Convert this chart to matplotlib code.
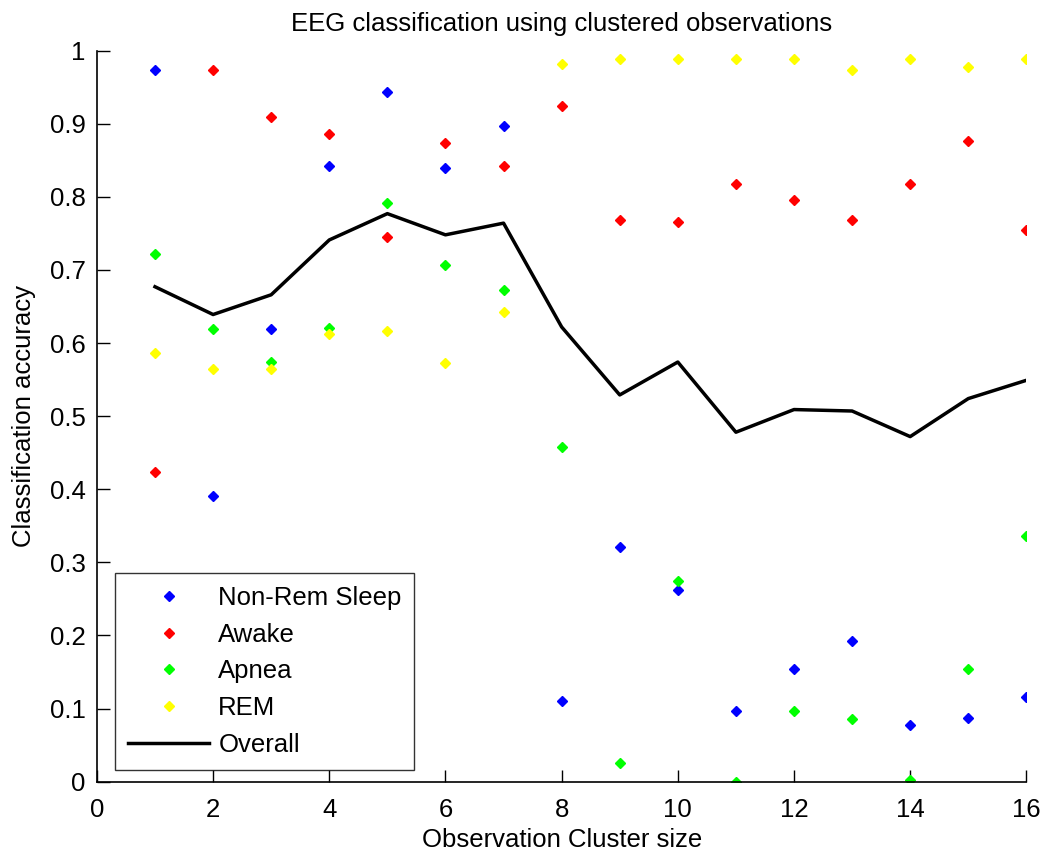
import matplotlib
matplotlib.use('Agg')
import matplotlib.pyplot as plt

plt.rcParams['font.family'] = ['Liberation Sans', 'DejaVu Sans']

# cluster sizes
cluster_size = list(range(1, 17))

# per-class accuracy
non_rem = [0.973, 0.391, 0.619, 0.842, 0.944, 0.839, 0.897, 0.110,
           0.321, 0.262, 0.096, 0.154, 0.192, 0.078, 0.087, 0.116]
awake = [0.423, 0.973, 0.909, 0.886, 0.745, 0.874, 0.842, 0.924,
         0.768, 0.766, 0.818, 0.795, 0.768, 0.818, 0.877, 0.754]
apnea = [0.722, 0.619, 0.574, 0.621, 0.792, 0.707, 0.672, 0.458,
         0.025, 0.274, 0.0, 0.096, 0.086, 0.002, 0.154, 0.336]
rem = [0.587, 0.564, 0.564, 0.613, 0.617, 0.573, 0.643, 0.982,
       0.988, 0.988, 0.988, 0.988, 0.973, 0.988, 0.977, 0.988]
overall = [0.677, 0.639, 0.666, 0.741, 0.777, 0.748, 0.764, 0.622,
           0.529, 0.574, 0.478, 0.509, 0.507, 0.472, 0.524, 0.549]

fs = 18.5

fig = plt.figure(figsize=(10.42, 8.58), dpi=100)
ax = fig.add_axes([0.093, 0.089, 0.892, 0.852])

ax.plot(cluster_size, non_rem, linestyle='none', marker='D', markersize=5,
        color='#0000ff', label='Non-Rem Sleep')
ax.plot(cluster_size, awake, linestyle='none', marker='D', markersize=5,
        color='#ff0000', label='Awake')
ax.plot(cluster_size, apnea, linestyle='none', marker='D', markersize=5,
        color='#00ff00', label='Apnea')
ax.plot(cluster_size, rem, linestyle='none', marker='D', markersize=5,
        color='#ffff00', label='REM')
ax.plot(cluster_size, overall, color='black', linewidth=2.5, label='Overall')

ax.set_xlim(0, 16)
ax.set_ylim(0, 1)
ax.set_xticks(range(0, 17, 2))
ax.set_yticks([i / 10 for i in range(11)])
ax.set_yticklabels(['0', '0.1', '0.2', '0.3', '0.4', '0.5', '0.6', '0.7',
                    '0.8', '0.9', '1'])
ax.tick_params(direction='in', length=9, width=1, labelsize=fs, pad=8)
ax.tick_params(axis='x', pad=12)
ax.spines['top'].set_visible(False)
ax.spines['right'].set_visible(False)
ax.spines['left'].set_linewidth(1.2)
ax.spines['bottom'].set_linewidth(1.2)

ax.set_xlabel('Observation Cluster size', fontsize=fs, labelpad=4)
ax.set_ylabel('Classification accuracy', fontsize=fs, labelpad=10)
ax.set_title('EEG classification using clustered observations', fontsize=fs, pad=14)

leg = ax.legend(loc='lower left', bbox_to_anchor=(0.02, 0.016), fontsize=fs,
                frameon=True, fancybox=False, edgecolor='black',
                handlelength=3.15, handletextpad=0.35, labelspacing=0.5,
                borderpad=0.5, borderaxespad=0)
leg.get_frame().set_linewidth(1.0)

fig.savefig('out.png', dpi=100)
